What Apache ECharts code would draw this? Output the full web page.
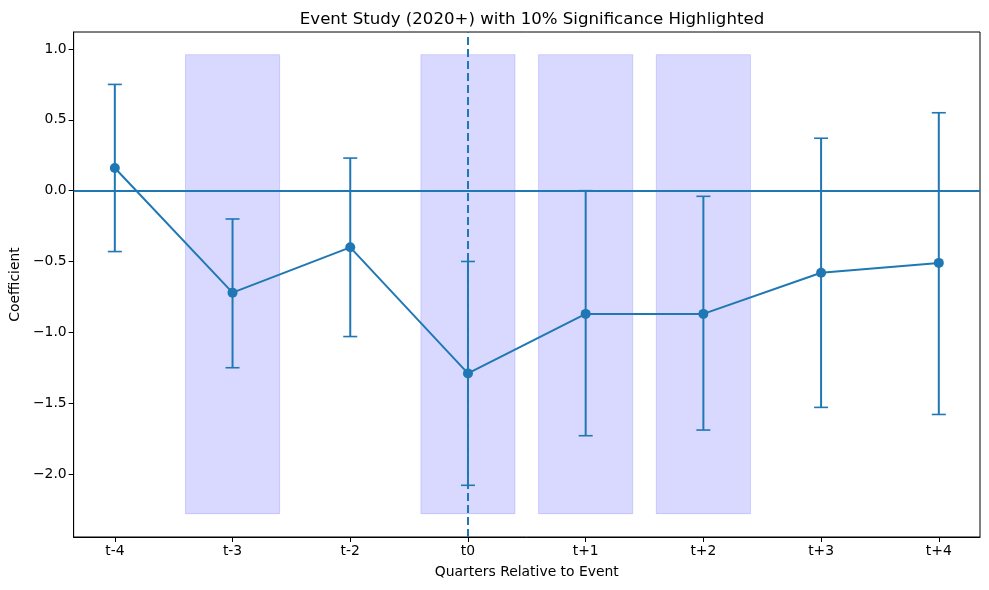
<!DOCTYPE html>
<html>
<head>
<meta charset="utf-8">
<script src="https://cdn.jsdelivr.net/npm/echarts@6/dist/echarts.min.js"></script>
<style>html,body{margin:0;padding:0;background:#fff}#c{width:989px;height:590px}</style>
</head>
<body>
<div id="c"></div>
<script>
const categories = ['t-4','t-3','t-2','t0','t+1','t+2','t+3','t+4'];
const coefficients = [0.16, -0.72, -0.40, -1.29, -0.87, -0.87, -0.58, -0.51];
const ciLower = [-0.43, -1.25, -1.03, -2.08, -1.73, -1.69, -1.53, -1.58];
const ciUpper = [0.75, -0.20, 0.23, -0.50, 0.00, -0.04, 0.37, 0.55];
const significantCats = ['t-3','t0','t+1','t+2'];
const spanTop = 0.96;
const spanBottom = -2.28;
const eventCat = 't0';
const yTicks = [-2.0, -1.5, -1.0, -0.5, 0.0, 0.5, 1.0];

const blue = '#1f77b4';
const idx = c => categories.indexOf(c);
const chart = echarts.init(document.getElementById('c'));
const fmtY = v => v.toFixed(1).replace('-', '\u2212');
const font = 'DejaVu Sans';

chart.setOption({
  animation: false,
  textStyle: { fontFamily: font },
  title: {
    text: 'Event Study (2020+) with 10% Significance Highlighted',
    left: 527, top: 6, textAlign: 'center',
    textStyle: { fontFamily: font, fontSize: 16.6, fontWeight: 'normal', color: '#000' }
  },
  grid: { left: 73, right: 9, top: 32, bottom: 53, show: true, borderColor: '#000', borderWidth: 1, backgroundColor: 'transparent' },
  xAxis: {
    type: 'value', min: -0.35, max: 7.35,
    name: 'Quarters Relative to Event', nameLocation: 'middle', nameGap: 28,
    nameTextStyle: { fontFamily: font, fontSize: 13.9, color: '#000' },
    axisLine: { show: true, onZero: false, lineStyle: { color: '#000', width: 1 } },
    axisTick: { show: true, length: 5, lineStyle: { color: '#000' }, customValues: categories.map((c, i) => i) },
    axisLabel: { color: '#000', fontSize: 13.9, fontFamily: font, margin: 7, customValues: categories.map((c, i) => i), formatter: v => categories[Math.round(v)] },
    splitLine: { show: false }
  },
  yAxis: {
    type: 'value', min: -2.445, max: 1.12,
    name: 'Coefficient', nameLocation: 'middle', nameGap: 47, nameRotate: 90,
    nameTextStyle: { fontFamily: font, fontSize: 13.9, color: '#000' },
    axisLine: { show: true, onZero: false, lineStyle: { color: '#000', width: 1 } },
    axisTick: { show: true, length: 5, lineStyle: { color: '#000' }, customValues: yTicks },
    axisLabel: { color: '#000', fontSize: 13.9, fontFamily: font, margin: 7, customValues: yTicks, formatter: fmtY },
    splitLine: { show: false }
  },
  series: [
    {
      type: 'custom', z: 1, silent: true,
      data: significantCats.map(c => [idx(c), spanTop, spanBottom]),
      renderItem: (params, api) => {
        const x = api.value(0);
        const p1 = api.coord([x - 0.4, api.value(1)]);
        const p2 = api.coord([x + 0.4, api.value(2)]);
        return {
          type: 'rect',
          shape: { x: p1[0], y: p1[1], width: p2[0] - p1[0], height: p2[1] - p1[1] },
          style: { fill: 'rgba(0,0,255,0.15)', stroke: 'rgba(0,0,255,0.15)', lineWidth: 1 }
        };
      }
    },
    {
      type: 'custom', z: 3, silent: true,
      data: categories.map((c, i) => [i, ciLower[i], ciUpper[i]]),
      renderItem: (params, api) => {
        const x = api.value(0);
        const lo = api.coord([x, api.value(1)]);
        const hi = api.coord([x, api.value(2)]);
        const cap = 7;
        const st = { stroke: blue, lineWidth: 2 };
        const capSt = { stroke: blue, lineWidth: 1.6 };
        return {
          type: 'group',
          children: [
            { type: 'line', shape: { x1: lo[0], y1: lo[1], x2: hi[0], y2: hi[1] }, style: st },
            { type: 'line', shape: { x1: lo[0] - cap, y1: lo[1], x2: lo[0] + cap, y2: lo[1] }, style: capSt },
            { type: 'line', shape: { x1: hi[0] - cap, y1: hi[1], x2: hi[0] + cap, y2: hi[1] }, style: capSt }
          ]
        };
      }
    },
    {
      type: 'line', z: 4,
      data: coefficients.map((v, i) => [i, v]),
      symbol: 'circle', symbolSize: 10,
      itemStyle: { color: blue },
      lineStyle: { color: blue, width: 2 },
      markLine: {
        silent: true, symbol: 'none', label: { show: false },
        data: [
          { yAxis: 0, lineStyle: { color: blue, width: 2, type: 'solid' } },
          { xAxis: idx(eventCat), lineStyle: { color: blue, width: 2, type: [8, 4] } }
        ]
      }
    }
  ]
});
</script>
</body>
</html>
